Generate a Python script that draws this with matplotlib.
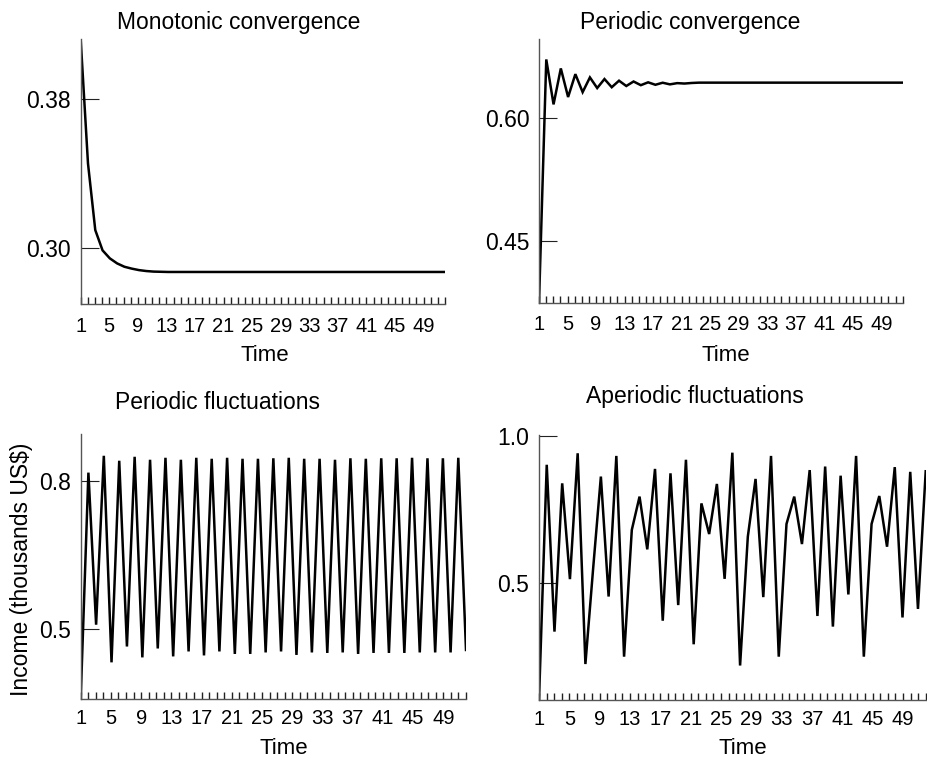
import numpy as np
import matplotlib
matplotlib.use("Agg")
import matplotlib.pyplot as plt
from matplotlib.ticker import FixedLocator, MultipleLocator

plt.rcParams['font.family'] = ['Liberation Sans', 'DejaVu Sans']

# values (51 time steps per panel)
monotonic = [0.412, 0.3456, 0.3098, 0.2989, 0.2946, 0.2919, 0.2901, 0.2891, 0.2883, 0.2878,
             0.2875, 0.2874, 0.2873, 0.2873, 0.2873, 0.2873, 0.2873, 0.2873, 0.2873, 0.2873,
             0.2873, 0.2873, 0.2873, 0.2873, 0.2873, 0.2873, 0.2873, 0.2873, 0.2873, 0.2873,
             0.2873, 0.2873, 0.2873, 0.2873, 0.2873, 0.2873, 0.2873, 0.2873, 0.2873, 0.2873,
             0.2873, 0.2873, 0.2873, 0.2873, 0.2873, 0.2873, 0.2873, 0.2873, 0.2873, 0.2873,
             0.2873]

periodic_conv = [0.374, 0.672, 0.617, 0.661, 0.626, 0.654, 0.632, 0.650, 0.637, 0.648,
                 0.638, 0.646, 0.6395, 0.645, 0.6405, 0.644, 0.641, 0.6435, 0.6415, 0.643,
                 0.6425, 0.6432, 0.6436, 0.6436, 0.6436, 0.6436, 0.6436, 0.6436, 0.6436, 0.6436,
                 0.6436, 0.6436, 0.6436, 0.6436, 0.6436, 0.6436, 0.6436, 0.6436, 0.6436, 0.6436,
                 0.6436, 0.6436, 0.6436, 0.6436, 0.6436, 0.6436, 0.6436, 0.6436, 0.6436, 0.6436,
                 0.6436]

periodic_fluct = [0.360, 0.816, 0.509, 0.850, 0.433, 0.840, 0.465, 0.848, 0.443, 0.842,
                  0.461, 0.846, 0.445, 0.842, 0.455, 0.846, 0.447, 0.844, 0.455, 0.846,
                  0.450, 0.844, 0.450, 0.844, 0.453, 0.845, 0.455, 0.846, 0.448, 0.844,
                  0.453, 0.844, 0.452, 0.842, 0.453, 0.845, 0.450, 0.844, 0.452, 0.845,
                  0.452, 0.845, 0.452, 0.846, 0.453, 0.845, 0.453, 0.845, 0.453, 0.846,
                  0.458]

aperiodic_fluct = [0.104, 0.902, 0.336, 0.839, 0.514, 0.941, 0.226, 0.550, 0.862, 0.455,
                   0.932, 0.251, 0.681, 0.794, 0.615, 0.888, 0.373, 0.873, 0.426, 0.919,
                   0.293, 0.771, 0.667, 0.837, 0.515, 0.943, 0.221, 0.658, 0.854, 0.453,
                   0.932, 0.251, 0.701, 0.794, 0.633, 0.884, 0.389, 0.896, 0.353, 0.865,
                   0.462, 0.932, 0.251, 0.701, 0.796, 0.624, 0.894, 0.384, 0.878, 0.413,
                   0.880]

xtick_labels = [1, 5, 9, 13, 17, 21, 25, 29, 33, 37, 41, 45, 49]

W, H = 927, 758
fig = plt.figure(figsize=(W / 100, H / 100), dpi=100)


def px_rect(left, right, top, bottom):
    return [left / W, 1 - bottom / H, (right - left) / W, (bottom - top) / H]


panels = [
    # series, y ticks, y labels, ylim, axes box (px), title pos, Time pos
    (monotonic, [0.30, 0.38], ["0.30", "0.38"], (0.2701, 0.4124),
     (80.7, 445, 39, 304), "Monotonic convergence", (239, 23), (265, 356)),
    (periodic_conv, [0.45, 0.60], ["0.45", "0.60"], (0.374, 0.697),
     (539, 902.7, 39, 303), "Periodic convergence", (690, 23), (726, 356)),
    (periodic_fluct, [0.5, 0.8], ["0.5", "0.8"], (0.359, 0.894),
     (80.7, 466, 434, 699), "Periodic fluctuations", (217.5, 402), (284, 748)),
    (aperiodic_fluct, [0.5, 1.0], ["0.5", "1.0"], (0.104, 1.003),
     (539, 925.7, 435, 700), "Aperiodic fluctuations", (694.5, 397), (743, 748)),
]

for i, (vals, yt, ytl, ylim, box, title, tpos, xpos) in enumerate(panels):
    ax = fig.add_axes(px_rect(*box))
    t = np.linspace(1, 52, len(vals))
    ax.plot(t, vals, color="black", lw=1.8, solid_joinstyle="miter")
    ax.set_xlim(1, 52)
    ax.set_ylim(*ylim)
    ax.spines["top"].set_visible(False)
    ax.spines["right"].set_visible(False)
    for s in ("left", "bottom"):
        ax.spines[s].set_color("#555555")
        ax.spines[s].set_linewidth(1.0)
    ax.xaxis.set_major_locator(FixedLocator(xtick_labels))
    ax.xaxis.set_minor_locator(MultipleLocator(1))
    ax.set_xticklabels([str(v) for v in xtick_labels])
    ax.tick_params(axis="x", which="both", direction="in", length=5, width=1.0,
                   color="#222222", labelsize=14.5, pad=9 if i < 2 else 7)
    ax.set_yticks(yt)
    ax.set_yticklabels(ytl)
    ax.yaxis.set_minor_locator(FixedLocator([]))
    ax.tick_params(axis="y", direction="in", length=13, width=0.8,
                   color="#222222", labelsize=16.5, pad=7)
    fig.text(tpos[0] / W, 1 - tpos[1] / H, title, ha="center", va="center", fontsize=16.5)
    fig.text(xpos[0] / W, 1 - xpos[1] / H, "Time", ha="center", va="center", fontsize=16)

fig.text(21.7 / W, 1 - 569 / H, "Income (thousands US$)", rotation=90,
         ha="center", va="center", fontsize=16.5)

fig.savefig("out.png", dpi=100)
